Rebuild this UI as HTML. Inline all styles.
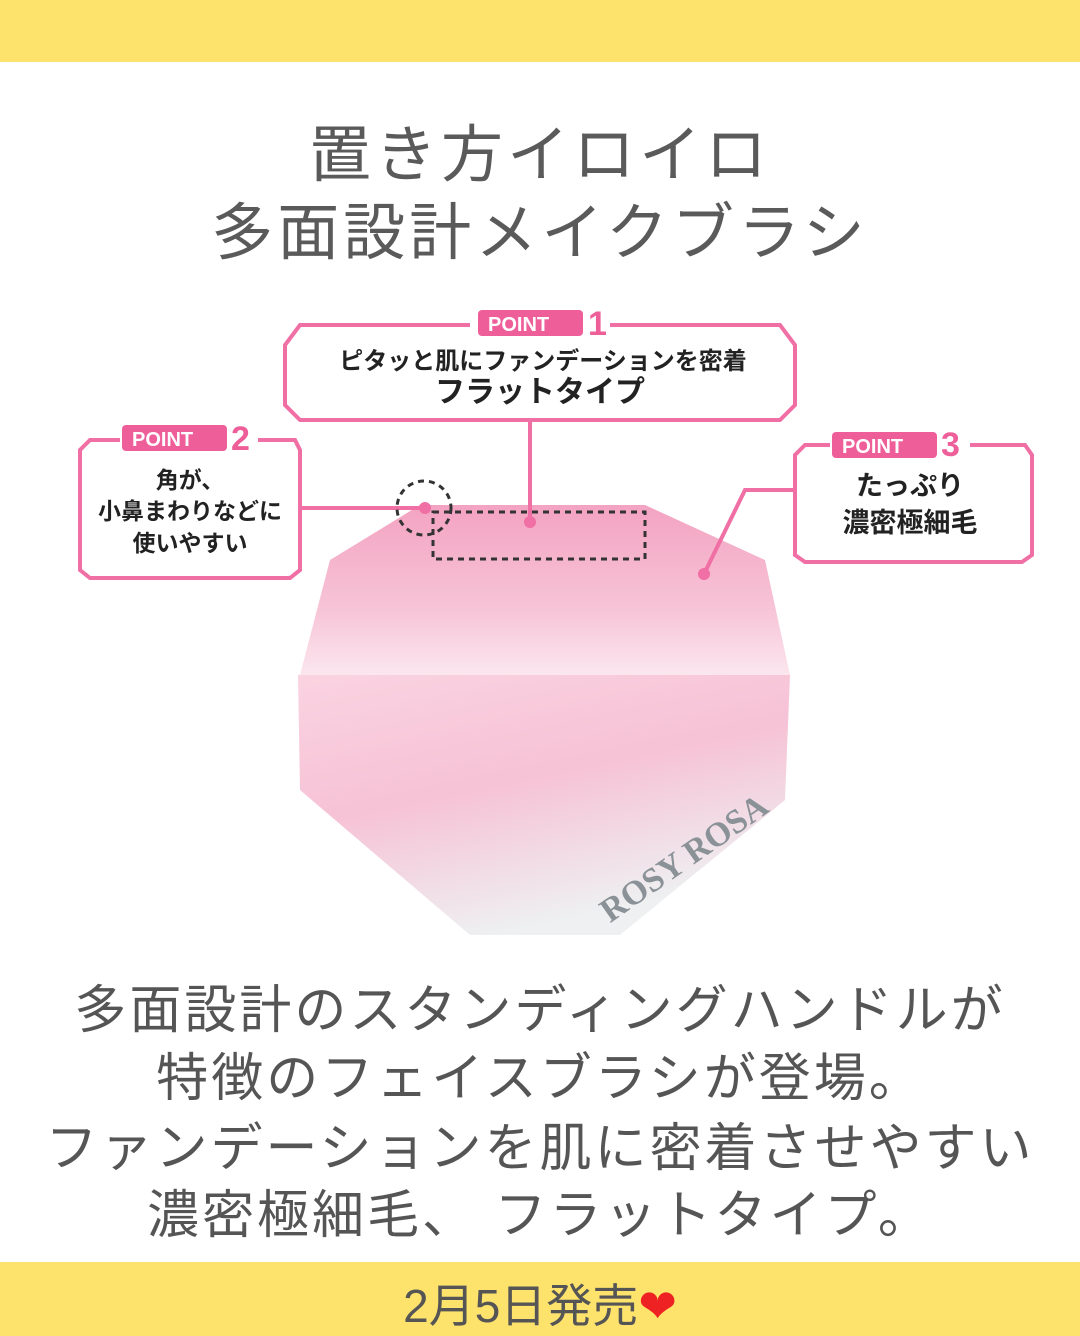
<!DOCTYPE html>
<html><head><meta charset="utf-8"><style>
body{margin:0;width:1080px;height:1336px;background:#fff;position:relative;overflow:hidden;font-family:"Liberation Sans","Noto Sans CJK JP",sans-serif;color:#555}
.band{position:absolute;left:0;width:1080px;background:#fde26c}
.t{position:absolute;left:0;width:1080px;text-align:center;white-space:nowrap}
</style></head><body>
<div class="band" style="top:0;height:62px"></div>
<div class="t" style="top:104px;font-size:62px;letter-spacing:4px;color:#5a5a5a">置き方イロイロ</div>
<div class="t" style="top:182px;font-size:62px;letter-spacing:4px;color:#5a5a5a">多面設計メイクブラシ</div>
<svg style="position:absolute;left:0;top:290px" width="1080" height="670" viewBox="0 290 1080 670">
<defs>
<linearGradient id="br" x1="0" y1="0" x2="0" y2="1"><stop offset="0" stop-color="#f3a3c1"/><stop offset="0.6" stop-color="#f7c3d6"/><stop offset="1" stop-color="#fbe6ee"/></linearGradient>
<linearGradient id="hd" x1="0" y1="0" x2="0.4" y2="1"><stop offset="0" stop-color="#fad3e1"/><stop offset="0.5" stop-color="#f6c2d5"/><stop offset="1" stop-color="#eef0f1"/></linearGradient>
</defs>
<path d="M330 560 L420 505 H645 L765 560 L790 675 H300 Z" fill="url(#br)"/>
<path d="M298 675 H790 L785 800 L620 935 H470 L300 790 Z" fill="url(#hd)"/>
<g fill="none" stroke="#f06fa4" stroke-width="4">
<path d="M470 325 H300 L285 345 V405 L300 420 H780 L795 405 V345 L780 325 H610"/>
<path d="M120 440 H90 L80 450 V570 L90 578 H290 L300 570 V450 L295 440 H258"/>
<path d="M830 445 H805 L795 455 V555 L805 562 H1022 L1032 555 V455 L1025 445 H970"/>
<line x1="530" y1="420" x2="530" y2="520"/>
<line x1="300" y1="508" x2="425" y2="508"/>
<polyline points="795,490 745,490 705,572"/>
</g>
<circle cx="530" cy="522" r="6" fill="#f06fa4"/><circle cx="425" cy="508" r="6" fill="#f06fa4"/><circle cx="704" cy="574" r="6" fill="#f06fa4"/>
<circle cx="424" cy="508" r="27" fill="none" stroke="#333" stroke-width="3" stroke-dasharray="6 5"/>
<rect x="433" y="512" width="212" height="47" fill="none" stroke="#333" stroke-width="3" stroke-dasharray="6 5"/>
<g fill="#ee5f9a"><rect x="478" y="310" width="105" height="26" rx="4"/><rect x="122" y="425" width="105" height="26" rx="4"/><rect x="832" y="432" width="105" height="26" rx="4"/></g>
<g fill="#fff" font-family="Liberation Sans" font-weight="bold" font-size="20"><text x="488" y="331">POINT</text><text x="132" y="446">POINT</text><text x="842" y="453">POINT</text></g>
<g fill="#ee5f9a" font-family="Liberation Sans" font-weight="bold" font-size="34"><text x="588" y="335">1</text><text x="231" y="450">2</text><text x="941" y="456">3</text></g>
<g fill="#222" font-family="Noto Sans CJK JP" font-weight="bold" text-anchor="middle">
<text x="543" y="369" font-size="24">ピタッと肌にファンデーションを密着</text>
<text x="540" y="402" font-size="30">フラットタイプ</text>
<text x="190" y="488" font-size="23">角が、</text><text x="190" y="519" font-size="23">小鼻まわりなどに</text><text x="190" y="551" font-size="23">使いやすい</text>
<text x="910" y="495" font-size="27">たっぷり</text><text x="910" y="532" font-size="27">濃密極細毛</text>
</g>
<text x="560" y="895" font-family="Liberation Serif" font-weight="bold" font-size="34" fill="#8a9298" transform="rotate(-35 630 830)">ROSY ROSA</text>
</svg>
<div class="t" style="top:968px;font-size:52px;letter-spacing:3px">多面設計のスタンディングハンドルが</div>
<div class="t" style="top:1036px;font-size:52px;letter-spacing:3px">特徴のフェイスブラシが登場。</div>
<div class="t" style="top:1106px;font-size:52px;letter-spacing:3px">ファンデーションを肌に密着させやすい</div>
<div class="t" style="top:1173px;font-size:52px;letter-spacing:3px">濃密極細毛、 フラットタイプ。</div>
<div class="band" style="top:1262px;height:74px"></div>
<div class="t" style="top:1270px;font-size:46px;color:#555">2月5日発売<span style="color:#e22">❤</span></div>
</body></html>
